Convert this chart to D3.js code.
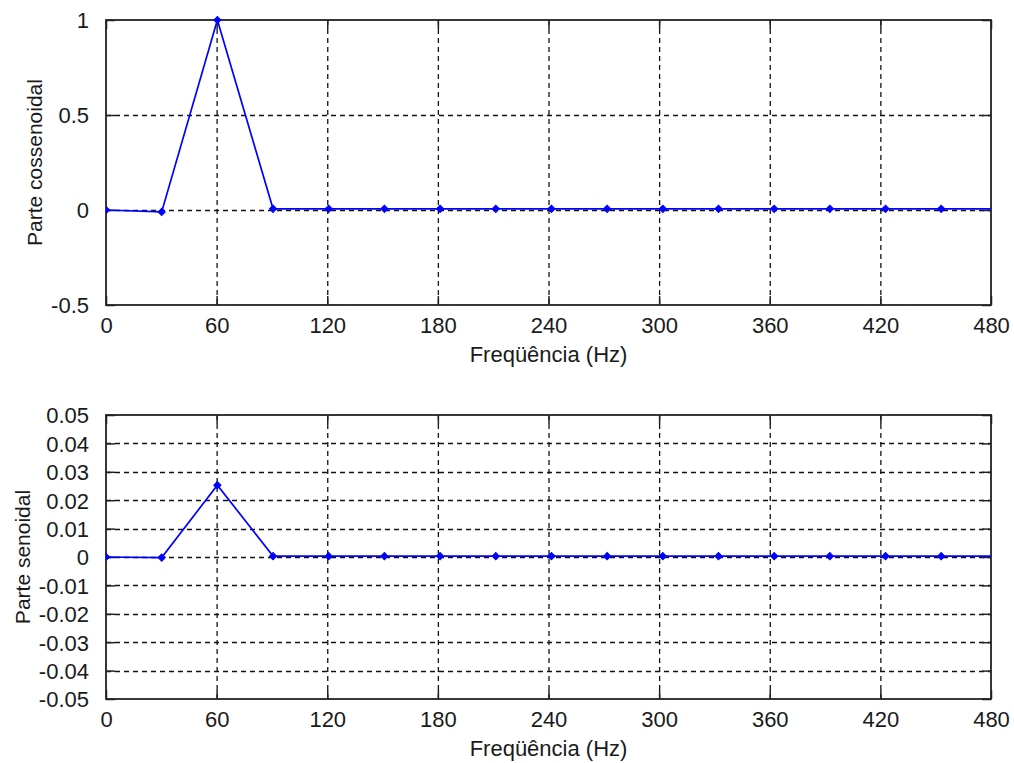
<!DOCTYPE html>
<html>
<head>
<meta charset="utf-8">
<script src="https://cdn.jsdelivr.net/npm/d3@7"></script>
<style>
    body { margin: 0; background: #fff; }
    svg { display: block; font-family: "Liberation Sans", Arial, sans-serif; }
</style>
</head>
<body>
<script>
const w = 1014;
const h = 763;

// frequency bins (Hz)
const freqs = [0, 30.2, 60.4, 90.6, 120.8, 151, 181.2, 211.4, 241.6, 271.8, 302, 332.2, 362.4, 392.6, 422.8, 453, 483.2];
// real part
const cosValues = [0, -0.01, 1, 0.006, 0.006, 0.006, 0.006, 0.006, 0.006, 0.006, 0.006, 0.006, 0.006, 0.006, 0.006, 0.006, 0.006];
// imaginary part
const sinValues = [0, -0.0002, 0.0253, 0.0003, 0.0003, 0.0003, 0.0003, 0.0003, 0.0003, 0.0003, 0.0003, 0.0003, 0.0003, 0.0003, 0.0003, 0.0003, 0.0003];

const xTicks = [0, 60, 120, 180, 240, 300, 360, 420, 480];
const cosTicks = [-0.5, 0, 0.5, 1];
const sinTicks = [-0.05, -0.04, -0.03, -0.02, -0.01, 0, 0.01, 0.02, 0.03, 0.04, 0.05];
const xLabel = "Freqüência (Hz)";

const svg = d3.select("body")
    .append("svg")
    .attr("width", w)
    .attr("height", h)
    ;

// matlab style labels use a plain hyphen for negatives
const hyphen = s => s.replace("\u2212", "-");

function drawPanel(opts) {
    const { id, top, bottom, values, yDomain, yTicks, yFormat, yLabel, yLabelX } = opts;
    const left = 106, right = 991;
    const tickLen = 9;

    const xScale = d3.scaleLinear().domain([0, 480]).range([left, right]);
    const yScale = d3.scaleLinear().domain(yDomain).range([bottom, top]);

    const g = svg.append("g").attr("id", id);

    g.append("clipPath")
        .attr("id", id + "-clip")
        .append("rect")
        .attr("x", left)
        .attr("y", top - 6)
        .attr("width", right - left)
        .attr("height", bottom - top + 12)
        ;

    // dashed grid
    const grid = g.append("g")
        .attr("stroke", "#111")
        .attr("stroke-width", 1.3)
        .attr("stroke-dasharray", "5,4")
        ;
    grid.selectAll(".vgrid")
        .data(xTicks.slice(1, -1))
        .enter()
        .append("line")
        .attr("x1", d => xScale(d) + 0.5)
        .attr("x2", d => xScale(d) + 0.5)
        .attr("y1", top)
        .attr("y2", bottom)
        ;
    grid.selectAll(".hgrid")
        .data(yTicks.slice(1, -1))
        .enter()
        .append("line")
        .attr("x1", left)
        .attr("x2", right)
        .attr("y1", d => Math.round(yScale(d)) + 0.5)
        .attr("y2", d => Math.round(yScale(d)) + 0.5)
        ;

    // axes: ticks inside, on all four sides
    const xAxis = d3.axisBottom(xScale)
        .tickValues(xTicks)
        .tickSize(-tickLen)
        .tickPadding(tickLen + 3)
        .tickFormat(d3.format("d"))
        ;
    const yAxis = d3.axisLeft(yScale)
        .tickValues(yTicks)
        .tickSize(-tickLen)
        .tickPadding(tickLen + 8)
        .tickFormat(yFormat)
        ;

    g.append("g")
        .attr("transform", "translate(0, " + bottom + ")")
        .call(xAxis)
        ;
    const ya = g.append("g")
        .attr("transform", "translate(" + left + ", 0)")
        .call(yAxis)
        ;
    g.append("g")
        .attr("transform", "translate(0, " + top + ")")
        .call(d3.axisTop(xScale).tickValues(xTicks).tickSize(-tickLen).tickFormat(""))
        ;
    g.append("g")
        .attr("transform", "translate(" + right + ", 0)")
        .call(d3.axisRight(yScale).tickValues(yTicks).tickSize(-tickLen).tickFormat(""))
        ;

    g.selectAll(".domain").remove();
    g.selectAll(".tick line")
        .attr("stroke", "#222")
        .attr("stroke-width", 1.5)
        ;
    g.selectAll(".tick text")
        .attr("fill", "#1a1a1a")
        .style("font-size", "22px")
        ;
    ya.selectAll(".tick text").attr("dy", "0.36em");

    g.append("rect")
        .attr("x", left)
        .attr("y", top)
        .attr("width", right - left)
        .attr("height", bottom - top)
        .attr("fill", "none")
        .attr("stroke", "#222")
        .attr("stroke-width", 1.8)
        ;

    // data
    const pts = freqs.map((f, i) => ({ f: f, v: values[i] }));
    const plot = g.append("g").attr("clip-path", "url(#" + id + "-clip)");
    plot.append("path")
        .datum(pts)
        .attr("fill", "none")
        .attr("stroke", "#0000ff")
        .attr("stroke-width", 1.7)
        .attr("d", d3.line().x(d => xScale(d.f)).y(d => yScale(d.v)))
        ;
    plot.selectAll(".pt")
        .data(pts.filter(d => d.f <= 480))
        .enter()
        .append("path")
        .attr("class", "pt")
        .attr("transform", d => "translate(" + xScale(d.f) + "," + yScale(d.v) + ") rotate(45)")
        .attr("d", d3.symbol().type(d3.symbolSquare).size(26))
        .attr("fill", "#0000ff")
        .attr("stroke", "#0000ff")
        .attr("stroke-width", 1)
        ;

    // labels
    g.append("text")
        .attr("x", (left + right) / 2)
        .attr("y", bottom + 57)
        .attr("text-anchor", "middle")
        .attr("fill", "#1a1a1a")
        .style("font-size", "22px")
        .text(xLabel)
        ;
    g.append("text")
        .attr("transform", "translate(" + yLabelX + ", " + (top + bottom) / 2 + ") rotate(-90)")
        .attr("text-anchor", "middle")
        .attr("fill", "#1a1a1a")
        .style("font-size", "21px")
        .text(yLabel)
        ;
}

drawPanel({
    id: "cos",
    top: 20,
    bottom: 305,
    values: cosValues,
    yDomain: [-0.5, 1],
    yTicks: cosTicks,
    yFormat: d => d === 0 ? "0" : hyphen(String(d)),
    yLabel: "Parte cossenoidal",
    yLabelX: 42
});

drawPanel({
    id: "sin",
    top: 415,
    bottom: 699,
    values: sinValues,
    yDomain: [-0.05, 0.05],
    yTicks: sinTicks,
    yFormat: d => d === 0 ? "0" : hyphen(d3.format(".2f")(d)),
    yLabel: "Parte senoidal",
    yLabelX: 30
});
</script>
</body>
</html>
